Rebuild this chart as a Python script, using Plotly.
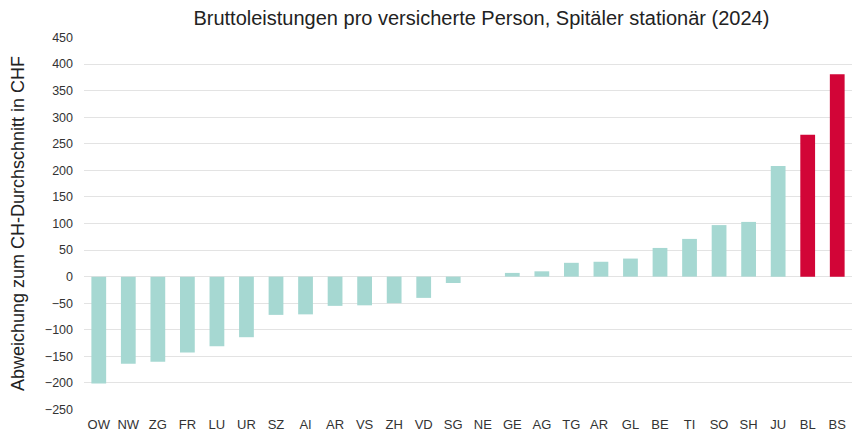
import plotly.graph_objects as go

cantons = ["OW", "NW", "ZG", "FR", "LU", "UR", "SZ", "AI", "AR", "VS", "ZH", "VD", "SG",
           "NE", "GE", "AG", "TG", "AR ", "GL", "BE", "TI", "SO", "SH", "JU", "BL", "BS"]
abweichung = [-201, -164, -160, -143, -131, -114, -72, -71, -55, -54, -50, -40, -12,
              0, 7, 10, 26, 28, 34, 54, 71, 97, 103, 208, 267, 381]
highlight = ["BL", "BS"]

teal = "#a6d8d2"
red = "#d20537"
colors = [red if c in highlight else teal for c in cantons]

fig = go.Figure(go.Bar(x=cantons, y=abweichung, marker_color=colors,
                       marker_line_width=0))

fig.update_layout(
    width=852, height=432,
    margin=dict(l=84, r=0, t=37, b=22, autoexpand=False),
    paper_bgcolor="white", plot_bgcolor="white",
    font=dict(family="Liberation Sans, Arial, sans-serif", color="#333333", size=12),
    title=dict(text="Bruttoleistungen pro versicherte Person, Spitäler stationär (2024)",
               x=0.565, xanchor="center", y=0.975, yanchor="top",
               font=dict(size=20, color="#222222")),
    bargap=0.5,
    showlegend=False,
)
fig.update_xaxes(tickfont=dict(size=13, color="#333333"), showgrid=False,
                 showline=False, ticks="", tickangle=0, automargin=False,
                 ticklabelstandoff=5)
fig.update_yaxes(range=[-251, 451], dtick=50, tick0=0, showgrid=True,
                 gridcolor="#e3e3e3", gridwidth=1, zeroline=False,
                 tickfont=dict(size=12.5, color="#333333"), ticks="",
                 automargin=False, ticklabelstandoff=10,
                 title=dict(text="Abweichung zum CH-Durchschnitt in CHF",
                            font=dict(size=18, color="#222222"), standoff=15))

fig.write_html("out.html", config={"displayModeBar": False},
               post_script="document.body.style.margin='0';document.body.style.overflow='hidden';")
